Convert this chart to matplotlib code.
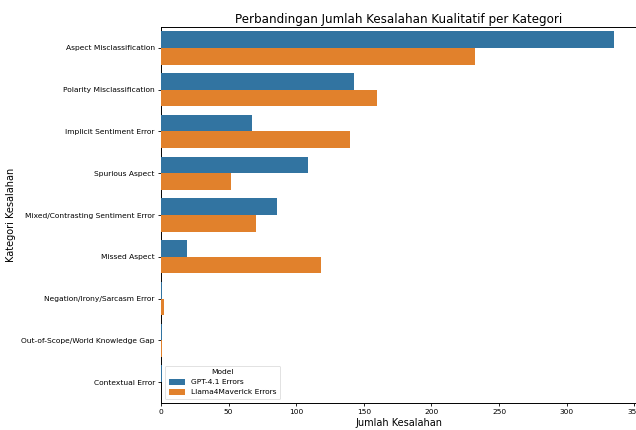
import matplotlib
matplotlib.use("Agg")
import matplotlib.pyplot as plt
import numpy as np

categories = [
    "Aspect Misclassification",
    "Polarity Misclassification",
    "Implicit Sentiment Error",
    "Spurious Aspect",
    "Mixed/Contrasting Sentiment Error",
    "Missed Aspect",
    "Negation/Irony/Sarcasm Error",
    "Out-of-Scope/World Knowledge Gap",
    "Contextual Error",
]
gpt_errors = [335, 143, 67, 109, 86, 19, 1, 1, 1]
llama_errors = [232, 160, 140, 52, 70, 118, 2, 1, 0]
series_names = ["GPT-4.1 Errors", "Llama4Maverick Errors"]
colors = ["#3274a1", "#e1812c"]

fig = plt.figure(figsize=(6.36, 4.30), dpi=100)
ax = fig.add_axes([161/636, 27/430, (637-161)/636, (403-27)/430])

y = np.arange(len(categories))
h = 0.4
ax.barh(y - h/2, gpt_errors, height=h, color=colors[0], label=series_names[0], zorder=3)
ax.barh(y + h/2, llama_errors, height=h, color=colors[1], label=series_names[1], zorder=3)

ax.set_yticks(y)
ax.set_yticklabels(categories, fontsize=5.4)
ax.set_ylim(len(categories) - 0.5, -0.5)
ax.set_xlim(0, 352)
ax.set_xticks([0, 50, 100, 150, 200, 250, 300, 350])
ax.tick_params(axis="x", labelsize=5.4, length=2.5, width=0.6, pad=2)
ax.tick_params(axis="y", length=2.5, width=0.6, pad=2)
for s in ax.spines.values():
    s.set_linewidth(0.7)

ax.set_xlabel("Jumlah Kesalahan", fontsize=7, labelpad=2)
ax.set_ylabel("Kategori Kesalahan", fontsize=7, labelpad=4)
ax.set_title("Perbandingan Jumlah Kesalahan Kualitatif per Kategori", fontsize=8.6, pad=3)

leg = ax.legend(title="Model", loc="lower left", fontsize=5.4, title_fontsize=5.4,
                frameon=True, borderpad=0.5, handlelength=2.2)
leg.get_frame().set_linewidth(0.5)
leg.set_zorder(5)

fig.savefig("out.png", dpi=100)
